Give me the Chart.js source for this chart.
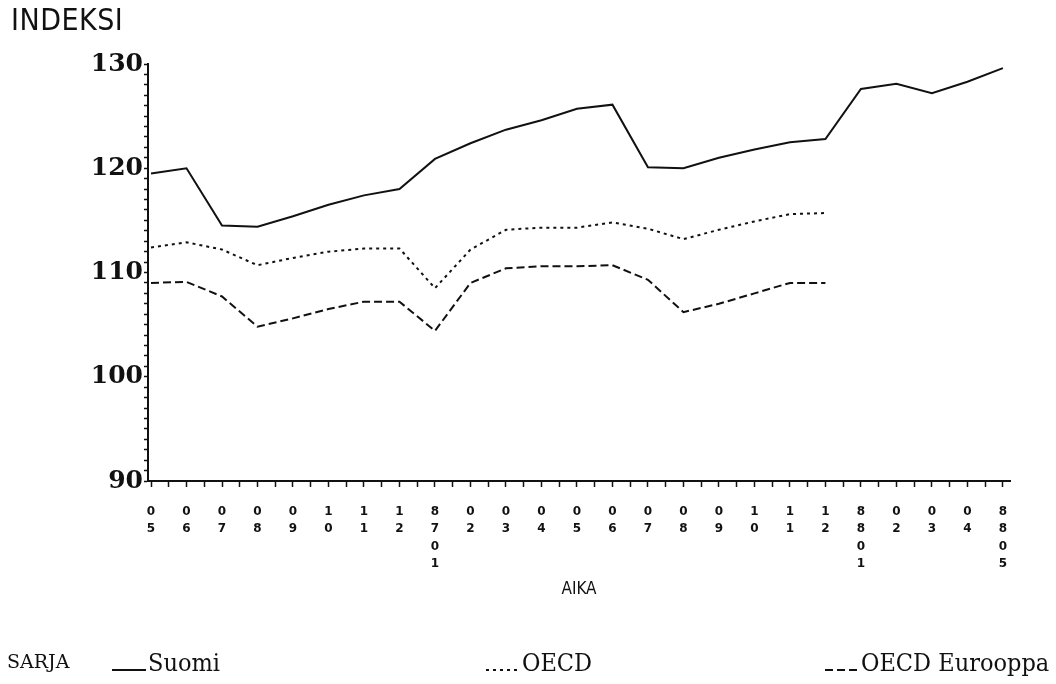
<!DOCTYPE html>
<html>
<head>
<meta charset="utf-8">
<script src="https://cdn.jsdelivr.net/npm/chart.js@4.4.0/dist/chart.umd.min.js"></script>
<style>
  html, body { margin: 0; padding: 0; background: #fff; }
  #wrap { position: relative; width: 1056px; height: 684px; overflow: hidden; }
  #chart { position: absolute; left: 0; top: 0; }
  .txt { position: absolute; color: #111; white-space: nowrap; }
  #ytitle { left: 11px; top: 2px; font: 30px "DejaVu Sans Condensed", sans-serif; letter-spacing: 0.5px; }
  #legend { position: absolute; left: 0; top: 642px; width: 1056px; height: 42px; }
  #legend .item { position: absolute; top: 0; display: flex; align-items: center; white-space: nowrap; }
  #legend canvas { display: block; }
  #legend .name { font: 25px "DejaVu Serif Condensed", serif; color: #111; margin-left: 2px; white-space: nowrap; }
  #sarja { left: 7px; top: 8px; font: 19px "DejaVu Serif", serif; }
</style>
</head>
<body>
<div id="wrap">
  <canvas id="chart" width="1056" height="684"></canvas>
  <div id="ytitle" class="txt">INDEKSI</div>
  <div id="legend">
    <div id="sarja" class="txt">SARJA</div>
  </div>
</div>
<script>
// Kuukaudet 8605 - 8805 (akselin tekstit pystyyn)
const tickLabels = [
    ['0','5'], ['0','6'], ['0','7'], ['0','8'], ['0','9'], ['1','0'], ['1','1'], ['1','2'],
    ['8','7','0','1'], ['0','2'], ['0','3'], ['0','4'], ['0','5'], ['0','6'], ['0','7'], ['0','8'],
    ['0','9'], ['1','0'], ['1','1'], ['1','2'],
    ['8','8','0','1'], ['0','2'], ['0','3'], ['0','4'], ['8','8','0','5']
];

const suomi = [119.5, 120.0, 114.5, 114.4, 115.4, 116.5, 117.4, 118.0, 120.9, 122.4, 123.7, 124.6, 125.7,
               126.1, 120.1, 120.0, 121.0, 121.8, 122.5, 122.8, 127.6, 128.1, 127.2, 128.3, 129.6];
const oecd = [112.4, 112.9, 112.2, 110.7, 111.4, 112.0, 112.3, 112.3, 108.5, 112.2, 114.1, 114.3, 114.3,
              114.8, 114.2, 113.2, 114.1, 114.9, 115.6, 115.7];
const oecdEurooppa = [109.0, 109.1, 107.7, 104.8, 105.6, 106.5, 107.2, 107.2, 104.4, 109.0, 110.4, 110.6, 110.6,
                      110.7, 109.3, 106.2, 107.0, 108.0, 109.0, 109.0];

const yMin = 90;
const yMax = 130;

// Legend positions (x of the line sample)
const legendX = [112, 486, 825];

const toPoints = arr => arr.map((v, i) => ({ x: i, y: v }));

const datasets = [
    { label: 'Suomi', data: toPoints(suomi), borderDash: [] },
    { label: 'OECD', data: toPoints(oecd), borderDash: [3, 4] },
    { label: 'OECD Eurooppa', data: toPoints(oecdEurooppa), borderDash: [8, 4] }
].map(ds => Object.assign(ds, {
    borderColor: '#111',
    borderWidth: 2,
    pointRadius: 0,
    tension: 0,
    fill: false
}));

const ctx = document.getElementById('chart');
new Chart(ctx, {
    type: 'line',
    data: { datasets: datasets },
    options: {
        responsive: false,
        animation: false,
        layout: { padding: { top: 64, right: 46, bottom: 84, left: 0 } },
        plugins: { legend: { display: false }, tooltip: { enabled: false } },
        scales: {
            x: {
                type: 'linear',
                min: -0.085,
                max: 24.2,
                afterBuildTicks: axis => {
                    const t = [];
                    for (let i = 0; i < tickLabels.length; i++) {
                        t.push({ value: i });
                        if (i < tickLabels.length - 1) t.push({ value: i + 0.5 });
                    }
                    axis.ticks = t;
                },
                afterFit: scale => { scale.height = 119; },
                border: { display: true, color: '#111', width: 2 },
                grid: { drawOnChartArea: false, drawTicks: true, tickLength: 6, color: '#111', tickWidth: 1.5 },
                ticks: {
                    autoSkip: false,
                    maxRotation: 0,
                    padding: 16,
                    color: '#111',
                    font: { family: 'DejaVu Sans', weight: 'bold', size: 12, lineHeight: 1.45 },
                    callback: v => Number.isInteger(v) ? tickLabels[v] : ''
                },
                title: {
                    display: true,
                    text: 'AIKA',
                    color: '#111',
                    padding: { top: 0, bottom: 0 },
                    font: { family: 'DejaVu Sans Condensed', size: 17 }
                }
            },
            y: {
                min: yMin,
                max: yMax,
                afterBuildTicks: axis => {
                    const t = [];
                    for (let v = yMin; v <= yMax; v++) t.push({ value: v });
                    axis.ticks = t;
                },
                afterFit: scale => { scale.width = 148; },
                border: { display: true, color: '#111', width: 2 },
                grid: { drawOnChartArea: false, drawTicks: true, tickLength: 4, color: '#111', tickWidth: 1.5 },
                ticks: {
                    autoSkip: false,
                    padding: 1,
                    color: '#111',
                    font: { family: 'DejaVu Serif', weight: 'bold', size: 25 },
                    callback: v => v % 10 === 0 ? String(v) : ''
                }
            }
        }
    }
});

// Legend built from the datasets
const legend = document.getElementById('legend');
datasets.forEach((ds, i) => {
    const item = document.createElement('div');
    item.className = 'item';
    item.style.left = legendX[i] + 'px';
    const c = document.createElement('canvas');
    c.width = 34;
    c.height = 40;
    const g = c.getContext('2d');
    g.strokeStyle = ds.borderColor;
    g.lineWidth = 2;
    g.setLineDash(ds.borderDash);
    g.beginPath();
    g.moveTo(0, 28);
    g.lineTo(34, 28);
    g.stroke();
    const name = document.createElement('span');
    name.className = 'name';
    name.textContent = ds.label;
    item.appendChild(c);
    item.appendChild(name);
    legend.appendChild(item);
});
</script>
</body>
</html>
